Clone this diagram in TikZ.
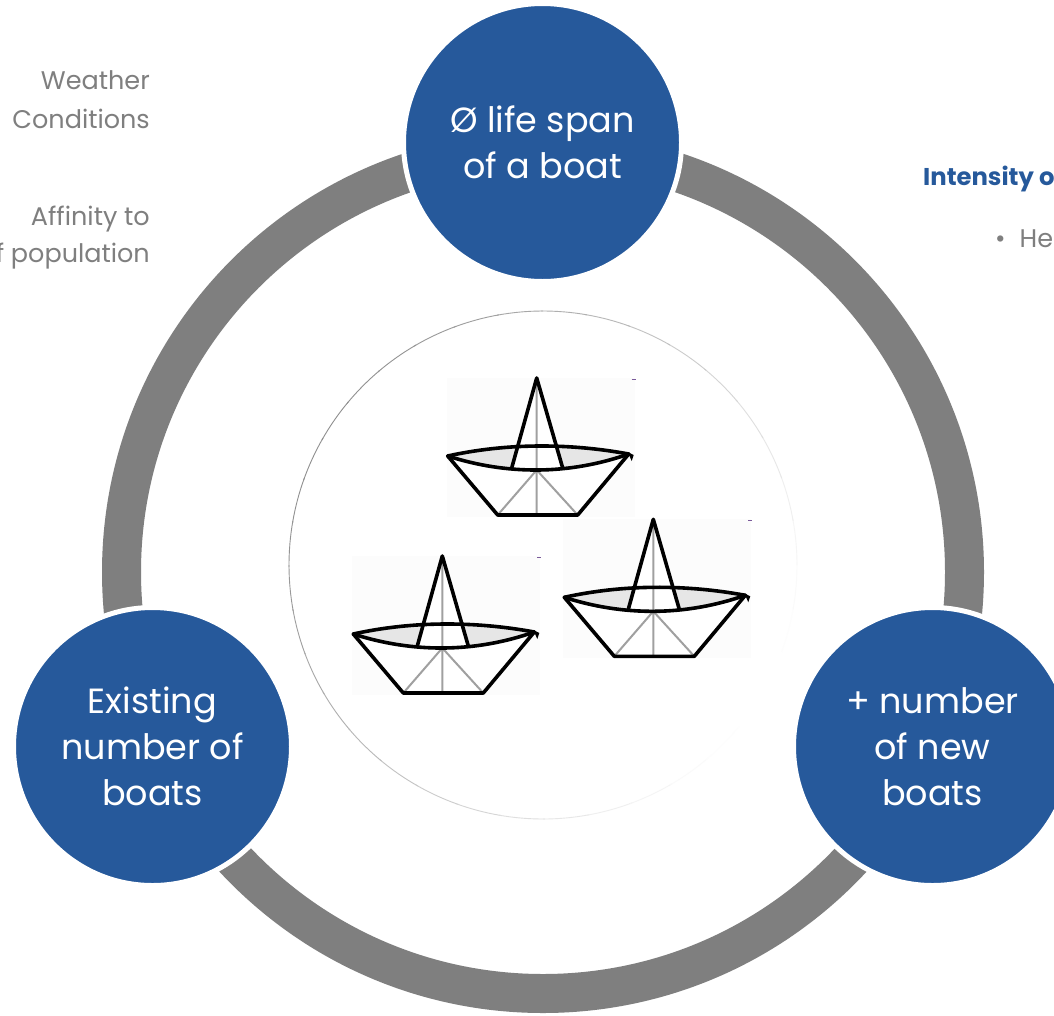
\documentclass[tikz,border=0pt]{standalone}
\usepackage{fontspec}
\usetikzlibrary{calc}
\setmainfont{Poppins}
\definecolor{nodeblue}{HTML}{26599B}
\definecolor{ringgray}{HTML}{7F7F7F}
\definecolor{textgray}{HTML}{7F7F7F}
\definecolor{lensgray}{HTML}{E6E6E6}
\definecolor{foldgray}{HTML}{A0A0A0}
\definecolor{dashpurple}{HTML}{7A5A9A}
\definecolor{boatbg}{HTML}{FCFCFC}
\tikzset{
  bluecircle/.style={circle, fill=nodeblue, draw=white, line width=5pt,
    minimum size=278pt, inner sep=0pt, text=white, align=center,
    font=\fontsize{35}{46}\selectfont},
  sidetext/.style={text=textgray, inner sep=0pt, font=\fontsize{25.5}{30}\selectfont},
  boatline/.style={draw=black, line width=3.6pt, line join=round, line cap=round},
  foldline/.style={draw=foldgray, line width=2pt},
  paperboat/.pic={
    \fill[boatbg] (-90,0) rectangle (98,139);
    \fill[lensgray] (-89,78) .. controls (-30,65) and (32,65) .. (92,76)
                     .. controls (32,97) and (-30,97) .. (-89,78) -- cycle;
    \fill[white] (-89,78) .. controls (-30,97) and (32,97) .. (92,76)
                 -- (41,137) -- (-39,137) -- cycle;
    \fill[white] (-25,90) -- (0,0) -- (26,90) -- cycle;
    \draw[foldline] (0,92) -- (-39,137) (0,92) -- (41,137) (0,0) -- (0,137);
    \draw[boatline] (-89,78) .. controls (-30,65) and (32,65) .. (92,76);
    \draw[boatline] (-89,78) .. controls (-30,97) and (32,97) .. (92,76);
    \draw[boatline] (-89,78) -- (-39,137) -- (41,137) -- (92,76);
    \draw[boatline] (-25,90) -- (0,0) -- (26,90);
    \fill[black] (91,74) -- (97,77) -- (95,83) -- cycle;
    \draw[dashpurple, line width=1pt] (95,1) -- (99,1);
  }
}
\begin{document}
\begin{tikzpicture}[x=1pt,y=-1pt]
\useasboundingbox (0,0) rectangle (1054,1015);
\clip (0,0) rectangle (1054,1015);
\fill[white] (0,0) rectangle (1054,1015);

% ring
\draw[ringgray, line width=39pt] (543,572) circle[radius=421.5pt];

% inner white circle with soft outline
\fill[white] (543,565) circle[radius=254pt];
\foreach \a in {0,10,...,350}{
  \pgfmathsetmacro\s{22+22*cos(\a+5-150)}
  \draw[black!\s, line width=0.9pt] ($(543,565)+(\a:254pt)$) arc[start angle=\a, end angle=\a+10.5, radius=254pt];
}

% boats
\pic at (536.7,378) {paperboat};
\pic at (442.3,556) {paperboat};
\pic at (653.3,519.3) {paperboat};

% blue circles
\node[bluecircle] (lifespan) at (542.5,142.5) {Ø life span\\of a boat};
\node[bluecircle] (existing) at (152.5,746.5) {Existing\\number of\\boats};
\node[bluecircle] (newboats) at (932.5,746.5) {+ number\\of new\\boats};

% side texts
\node[sidetext, anchor=base east] (weather1) at (150,89) {Weather};
\node[sidetext, anchor=base east] (weather2) at (150,128) {Conditions};
\node[sidetext, anchor=base east] (affinity1) at (150,225) {Affinity to};
\node[sidetext, anchor=base east] (affinity2) at (150,262) {f population};
\node[inner sep=0pt, anchor=base west, text=nodeblue, font=\fontsize{24.3}{30}\selectfont\bfseries] (intensity) at (923,185) {Intensity of};
\node[sidetext, anchor=base west] (bullet) at (995,247) {•\hspace{14pt}He};
\end{tikzpicture}
\end{document}
